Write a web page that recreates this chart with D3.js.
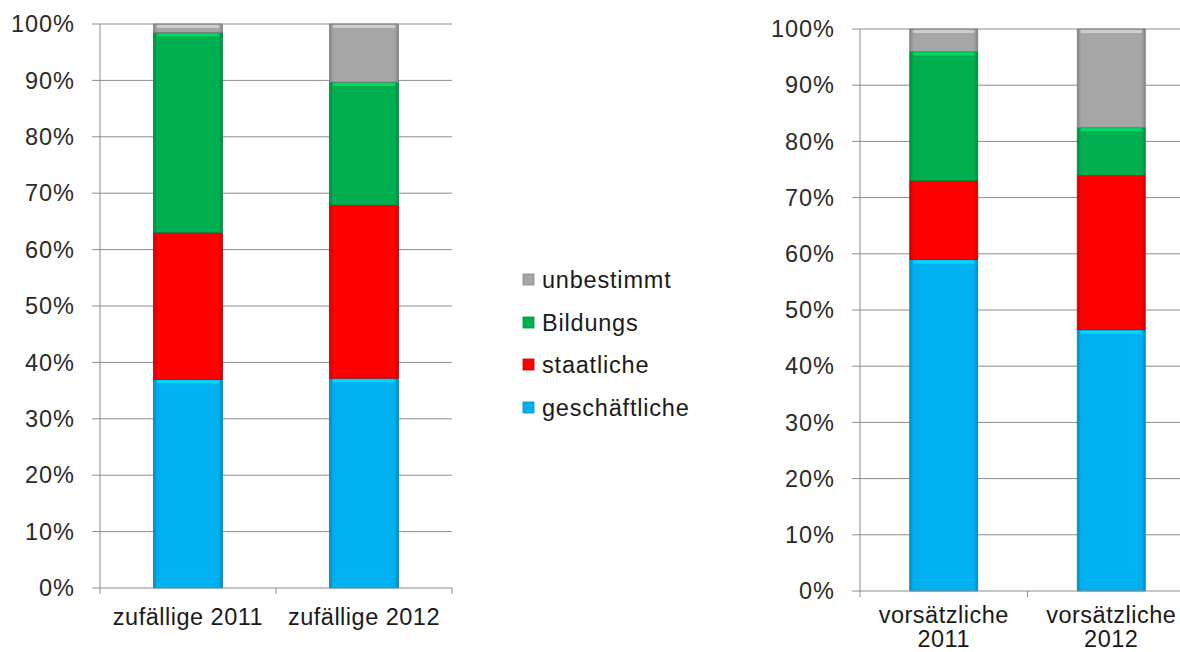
<!DOCTYPE html>
<html><head><meta charset="utf-8">
<script src="https://cdn.jsdelivr.net/npm/d3@7"></script>
<style>body{margin:0;background:#fff}svg{display:block}</style>
</head><body>
<svg id="c" width="1180" height="652"></svg>
<script>
// ---- data ----
const seriesNames = ["geschäftliche", "staatliche", "Bildungs", "unbestimmt"];
const seriesColors = ["#00B0F0", "#FF0000", "#00B050", "#A6A6A6"];
const leftCategories = ["zufällige 2011", "zufällige 2012"];
const leftGeschaeftliche = [37, 37.2];
const leftStaatliche = [26, 30.7];
const leftBildungs = [35.5, 21.8];
const leftUnbestimmt = [1.5, 10.3];
const rightCategories = ["vorsätzliche 2011", "vorsätzliche 2012"];
const rightGeschaeftliche = [59, 46.5];
const rightStaatliche = [14, 27.5];
const rightBildungs = [23, 8.5];
const rightUnbestimmt = [4, 17.5];
const yTickValues = [0, 10, 20, 30, 40, 50, 60, 70, 80, 90, 100];

const FONT = "Liberation Sans, Arial, sans-serif";
const svg = d3.select("#c");
const defs = svg.append("defs");
seriesColors.forEach((c, i) => {
  const g = defs.append("linearGradient").attr("id", "g" + i)
    .attr("x1", 0).attr("x2", 1).attr("y1", 0).attr("y2", 0);
  const dk = d3.color(c).darker(0.6);
  g.append("stop").attr("offset", 0).attr("stop-color", dk);
  g.append("stop").attr("offset", 0.06).attr("stop-color", c);
  g.append("stop").attr("offset", 0.94).attr("stop-color", c);
  g.append("stop").attr("offset", 1).attr("stop-color", dk);
});

function drawChart(cfg) {
  const y = d3.scaleLinear().domain([0, 100]).range([cfg.y0, cfg.y1]);
  const x = d3.scaleBand().domain(cfg.categories).range([cfg.x0, cfg.x1])
    .paddingInner(cfg.pad).paddingOuter(cfg.pad / 2);
  const g = svg.append("g");
  // gridlines
  g.selectAll("line.grid").data(yTickValues.filter(v => v > 0)).join("line")
    .attr("x1", cfg.x0 - 8).attr("x2", cfg.x1).attr("y1", d => y(d)).attr("y2", d => y(d))
    .attr("stroke", "#8c8c8c").attr("stroke-width", 1);
  // y labels
  g.selectAll("text.yl").data(yTickValues).join("text")
    .attr("x", cfg.x0 - 25).attr("y", d => y(d)).attr("dy", "0.35em")
    .attr("text-anchor", "end").attr("font-family", FONT)
    .attr("font-size", 23.5).attr("letter-spacing", 1).attr("fill", "#2a2a2a").text(d => d + "%");
  // y axis line
  g.append("line").attr("x1", cfg.x0).attr("x2", cfg.x0).attr("y1", y(0)).attr("y2", y(100))
    .attr("stroke", "#8c8c8c");
  // bars
  const table = cfg.categories.map((c, i) => {
    const o = { cat: c };
    seriesNames.forEach((s, j) => o[s] = cfg.values[j][i]);
    return o;
  });
  const stack = d3.stack().keys(seriesNames)(table);
  stack.forEach((layer, j) => {
    const lg = g.append("g");
    lg.selectAll("rect.seg").data(layer).join("rect")
      .attr("x", d => x(d.data.cat)).attr("width", x.bandwidth())
      .attr("y", d => y(d[1])).attr("height", d => y(d[0]) - y(d[1]))
      .attr("fill", "url(#g" + j + ")")
      .attr("stroke", d3.color(seriesColors[j]).darker(0.8)).attr("stroke-width", 0.8);
    lg.selectAll("rect.hl").data(layer.filter(d => y(d[0]) - y(d[1]) > 5)).join("rect")
      .attr("x", d => x(d.data.cat) + 3).attr("width", x.bandwidth() - 6)
      .attr("y", d => y(d[1]) + 1).attr("height", 3).attr("rx", 2)
      .attr("fill", d3.color(seriesColors[j]).brighter(0.7)).attr("opacity", 0.85);
  });
  // x axis
  g.append("line").attr("x1", cfg.x0 - 8).attr("x2", cfg.x1).attr("y1", y(0)).attr("y2", y(0))
    .attr("stroke", "#8c8c8c");
  const tickXs = [cfg.x0].concat(cfg.categories.map(c => x(c) + x.bandwidth() / 2 + x.step() / 2));
  g.selectAll("line.xt").data(tickXs).join("line")
    .attr("x1", d => d).attr("x2", d => d).attr("y1", y(0)).attr("y2", y(0) + 6)
    .attr("stroke", "#8c8c8c");
  // x labels
  cfg.categories.forEach(c => {
    const lines = cfg.wrap ? c.split(" ") : [c];
    const t = g.append("text").attr("text-anchor", "middle")
      .attr("font-family", FONT).attr("font-size", 23.5).attr("letter-spacing", 0.5)
      .attr("fill", "#1a1a1a");
    lines.forEach((l, k) => t.append("tspan").attr("x", x(c) + x.bandwidth() / 2)
      .attr("y", cfg.labelY + k * 24).text(l));
  });
}

drawChart({ categories: leftCategories,
  values: [leftGeschaeftliche, leftStaatliche, leftBildungs, leftUnbestimmt],
  x0: 100, x1: 452, y0: 588, y1: 24, pad: 0.608, labelY: 625, wrap: false });
drawChart({ categories: rightCategories,
  values: [rightGeschaeftliche, rightStaatliche, rightBildungs, rightUnbestimmt],
  x0: 860, x1: 1195, y0: 591, y1: 29, pad: 0.594, labelY: 623, wrap: true });

// legend
const legendY = [280, 323, 365, 408];
const legendOrder = [3, 2, 1, 0];
const lg = svg.append("g");
legendOrder.forEach((j, k) => {
  lg.append("rect").attr("x", 523).attr("y", legendY[k] - 6).attr("width", 11).attr("height", 11)
    .attr("fill", seriesColors[j]).attr("stroke", d3.color(seriesColors[j]).darker(0.6)).attr("stroke-width", 0.8);
  lg.append("text").attr("x", 542).attr("y", legendY[k]).attr("dy", "0.35em")
    .attr("font-family", FONT).attr("font-size", 23.5).attr("letter-spacing", 0.8)
    .attr("fill", "#1a1a1a").text(seriesNames[j]);
});
</script>
</body></html>
